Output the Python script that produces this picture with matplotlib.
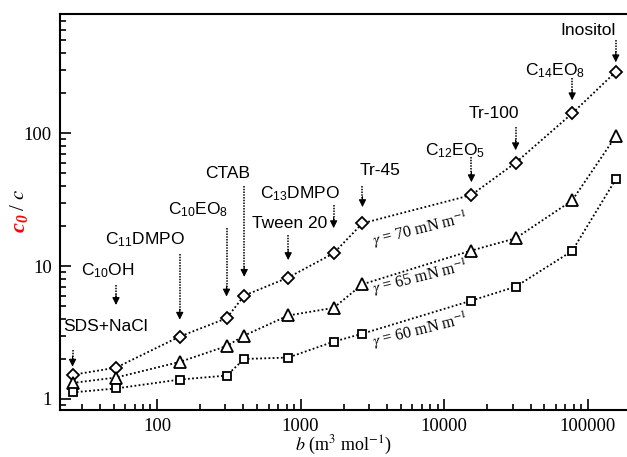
import numpy as np
import matplotlib
matplotlib.use('Agg')
import matplotlib.pyplot as plt
from matplotlib.ticker import LogLocator, NullFormatter, FixedLocator, FixedFormatter

plt.rcParams['font.family'] = 'Liberation Serif'
plt.rcParams['mathtext.fontset'] = 'stix'

# b (m3 mol-1) for each surfactant
b = [25.8, 51.8, 144, 305, 405, 820, 1700, 2700, 15500, 31500, 78000, 157000]
names = ['SDS+NaCl', 'C$\\mathregular{_{10}}$OH', 'C$\\mathregular{_{11}}$DMPO',
         'C$\\mathregular{_{10}}$EO$\\mathregular{_8}$', 'CTAB', 'Tween 20',
         'C$\\mathregular{_{13}}$DMPO', 'Tr-45', 'C$\\mathregular{_{12}}$EO$\\mathregular{_5}$',
         'Tr-100', 'C$\\mathregular{_{14}}$EO$\\mathregular{_8}$', 'Inositol']

# c0/c for three surface tensions
g70 = [1.52, 1.72, 2.95, 4.05, 6.0, 8.2, 12.5, 21, 34.3, 60, 141, 290]
g65 = [1.32, 1.45, 1.9, 2.5, 3.0, 4.25, 4.85, 7.3, 13.1, 16.2, 31.2, 95]
g60 = [1.12, 1.2, 1.4, 1.5, 2.0, 2.05, 2.7, 3.1, 5.5, 7.0, 13.0, 45]

# label placement: text (x, y), arrow tail y, arrow tip y
txt_x = [44, 45, 82, 194, 312, 843, 989, 3560, 11870, 22100, 59800, 101000]
txt_y = [3.54, 9.3, 15.7, 26.4, 50, 21, 35.4, 52.7, 74.5, 141, 298, 595]
arr_top = [2.34, 7.2, 12.3, 19.3, 39.9, 17.1, 28.7, 39.9, 66, 111, 259, 501]
arr_tip = [1.75, 5.1, 3.95, 5.9, 8.3, 11.1, 19.3, 27.8, 42.8, 74.5, 177, 342]

fig = plt.figure(figsize=(6.27, 4.57), dpi=100)
ax = fig.add_axes([60/627, 1-410/457, 1-60/627, (410-14)/457])

ax.set_xscale('log')
ax.set_yscale('log')
ax.set_xlim(21.1, 188000)
ax.set_ylim(0.826, 790)

mk = dict(mfc='white', mec='black', mew=1.3, color='black', ls=(0, (1, 1.3)), lw=1.3)
ax.plot(b, g70, marker='D', ms=6.5, **mk)
ax.plot(b, g65, marker='^', ms=8, **mk)
ax.plot(b, g60, marker='s', ms=5.5, **mk)

for i in range(len(b)):
    ax.text(txt_x[i], txt_y[i], names[i], family='Liberation Sans', fontsize=12.5,
            ha='center', va='center')
    ax.plot([b[i], b[i]], [arr_top[i], arr_tip[i] * 1.12], color='black',
            ls=(0, (1, 0.8)), lw=1.1)
    ax.annotate('', xy=(b[i], arr_tip[i]), xytext=(b[i], arr_tip[i] * 1.2),
                arrowprops=dict(arrowstyle='-|>', color='black', lw=0.8,
                                mutation_scale=11, shrinkA=0, shrinkB=0))

gam = ['$\\gamma$ = 70 mN m$^{-1}$', '$\\gamma$ = 65 mN m$^{-1}$', '$\\gamma$ = 60 mN m$^{-1}$']
gam_y = [19.0, 8.2, 3.3]
for i in range(3):
    ax.text(6870, gam_y[i], gam[i], fontsize=11.5, rotation=14, ha='center', va='center')

ax.spines['right'].set_visible(False)
for s in ['left', 'bottom', 'top']:
    ax.spines[s].set_linewidth(1.5)

ax.xaxis.set_major_locator(FixedLocator([100, 1000, 10000, 100000]))
ax.xaxis.set_major_formatter(FixedFormatter(['100', '1000', '10000', '100000']))
ax.yaxis.set_major_locator(FixedLocator([1, 10, 100]))
ax.yaxis.set_major_formatter(FixedFormatter(['1', '10', '100']))
ax.xaxis.set_minor_locator(LogLocator(base=10, subs=np.arange(2, 10), numticks=20))
ax.yaxis.set_minor_locator(LogLocator(base=10, subs=np.arange(2, 10), numticks=20))
ax.xaxis.set_minor_formatter(NullFormatter())
ax.yaxis.set_minor_formatter(NullFormatter())
ax.tick_params(which='both', direction='in', top=False, right=False, width=1.2)
ax.tick_params(which='major', length=8, labelsize=13.5, pad=6)
ax.tick_params(which='minor', length=4)

fig.text(343.5/627, 1-445/457, '$b$ (m$^3$ mol$^{-1}$)', fontsize=13,
         ha='center', va='center')
fig.text(20/627, 1-223/457, 'c$\\mathregular{_0}$', color='red', fontsize=16,
         fontweight='bold', fontstyle='italic', rotation=90, ha='center', va='center')
fig.text(20/627, 1-200/457, '/ $c$', color='black', fontsize=15, rotation=90,
         ha='center', va='center')

fig.savefig('out.png', dpi=100)
